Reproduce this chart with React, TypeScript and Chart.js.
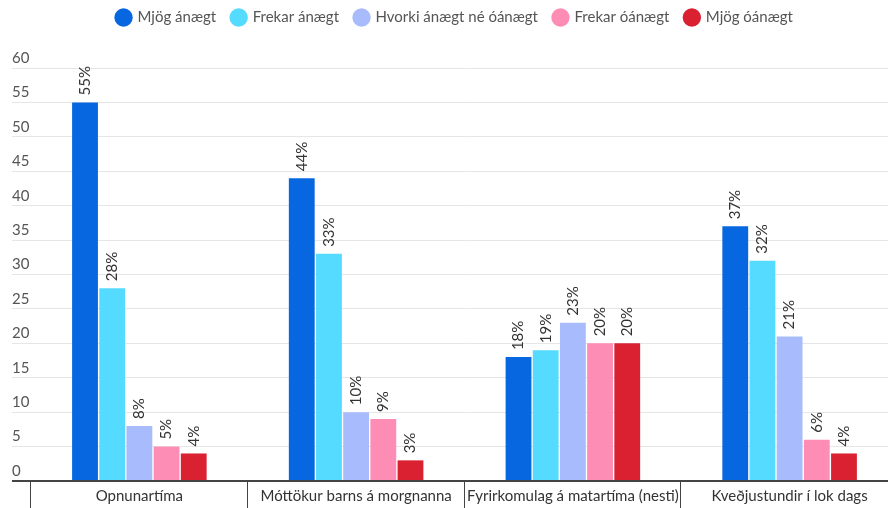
import React, { useEffect, useRef } from "react";
import { Chart, registerables } from "chart.js";

Chart.register(...registerables);

const categories = [
  "Opnunartíma",
  "Móttökur barns á morgnanna",
  "Fyrirkomulag á matartíma (nesti)",
  "Kveðjustundir í lok dags",
];
const seriesNames = [
  "Mjög ánægt",
  "Frekar ánægt",
  "Hvorki ánægt né óánægt",
  "Frekar óánægt",
  "Mjög óánægt",
];
const mjogAnaegt = [55, 44, 18, 37];
const frekarAnaegt = [28, 33, 19, 32];
const hvorki = [8, 10, 23, 21];
const frekarOanaegt = [5, 9, 20, 6];
const mjogOanaegt = [4, 3, 20, 4];
const seriesColors = ["#0667e0", "#54dbff", "#a8bbfd", "#fe8db5", "#da2132"];
const yTicks = [0, 5, 10, 15, 20, 25, 30, 35, 40, 45, 50, 55, 60];

const FONT = "Lato, 'Noto Sans', sans-serif";

const legendSpacer = {
  id: "legendSpacer",
  beforeInit(chart: any) {
    const lg = chart.legend;
    if (lg && !lg._patched) {
      const orig = lg.fit;
      lg.fit = function () {
        orig.call(this);
        this.height += 33;
      };
      lg._patched = true;
    }
  },
};

const categorySeparators = {
  id: "categorySeparators",
  afterDraw(chart: any) {
    const x = chart.scales.x;
    const ctx = chart.ctx;
    const n = chart.data.labels.length;
    const p0 = x.getPixelForValue(0);
    const p1 = x.getPixelForValue(1);
    const half = (p1 - p0) / 2;
    ctx.save();
    ctx.strokeStyle = "#444";
    ctx.lineWidth = 1;
    for (let i = 0; i <= n; i++) {
      const px = Math.round(p0 - half + i * half * 2) - 0.5;
      ctx.beginPath();
      ctx.moveTo(px, chart.chartArea.bottom);
      ctx.lineTo(px, chart.height);
      ctx.stroke();
    }
    ctx.restore();
  },
};

const valueLabels = {
  id: "valueLabels",
  afterDatasetsDraw(chart: any) {
    const ctx = chart.ctx;
    ctx.save();
    ctx.font = `15px ${FONT}`;
    ctx.fillStyle = "#333";
    ctx.textAlign = "left";
    ctx.textBaseline = "middle";
    chart.data.datasets.forEach((ds: any, di: number) => {
      const meta = chart.getDatasetMeta(di);
      meta.data.forEach((bar: any, i: number) => {
        const v = ds.data[i];
        ctx.save();
        ctx.translate(bar.x, bar.y - 7);
        ctx.rotate(-Math.PI / 2);
        ctx.fillText(`${v}%`, 0, 0);
        ctx.restore();
      });
    });
    ctx.restore();
  },
};

export default function App() {
  const ref = useRef<HTMLCanvasElement | null>(null);
  useEffect(() => {
    if (!ref.current) return;
    const values = [mjogAnaegt, frekarAnaegt, hvorki, frekarOanaegt, mjogOanaegt];
    const chart = new Chart(ref.current, {
      type: "bar",
      data: {
        labels: categories,
        datasets: values.map((d, i) => ({
          label: seriesNames[i],
          data: d,
          backgroundColor: seriesColors[i],
          borderWidth: 0,
          categoryPercentage: 0.627,
          barPercentage: 0.95,
        })),
      },
      options: {
        animation: false,
        responsive: false,
        maintainAspectRatio: false,
        layout: { padding: { left: 12, right: 0, top: -6, bottom: 2 } },
        plugins: {
          legend: {
            position: "top",
            align: "center",
            labels: {
              usePointStyle: true,
              pointStyle: "circle",
              boxWidth: 13,
              boxHeight: 13,
              padding: 16,
              color: "#555",
              font: { family: FONT, size: 15 },
            },
          },
          tooltip: { enabled: false },
        },
        scales: {
          x: {
            offset: true,
            border: { display: false },
            grid: { display: false, drawTicks: false, tickLength: 0 },
            afterFit: (scale: any) => {
              scale.height = 25;
            },
            ticks: {
              color: "#333",
              font: { family: FONT, size: 15 },
              padding: 6,
              maxRotation: 0,
              autoSkip: false,
            },
          },
          y: {
            min: 0,
            max: 60,
            afterBuildTicks: (scale: any) => {
              scale.ticks = yTicks.map((v) => ({ value: v }));
            },
            afterFit: (scale: any) => {
              scale.width = 19;
            },
            border: { display: false },
            grid: {
              drawTicks: true,
              tickLength: 19,
              color: (c: any) => (c.tick && c.tick.value === 0 ? "#444" : "#e6e6e6"),
              tickColor: (c: any) => (c.tick && c.tick.value === 0 ? "#444" : "#e6e6e6"),
              lineWidth: (c: any) => (c.tick && c.tick.value === 0 ? 2 : 1),
            },
            ticks: {
              color: "#555",
              font: { family: FONT, size: 15 },
              crossAlign: "far",
              labelOffset: -10,
              padding: 0,
            },
          },
        },
      },
      plugins: [legendSpacer, categorySeparators, valueLabels],
    });
    return () => chart.destroy();
  }, []);
  return (
    <div
      style={{
        position: "absolute",
        left: 0,
        top: 0,
        width: 888,
        height: 508,
        overflow: "hidden",
        background: "#fff",
      }}
    >
      <canvas ref={ref} width={898} height={508} style={{ width: 898, height: 508, display: "block" }} />
    </div>
  );
}
